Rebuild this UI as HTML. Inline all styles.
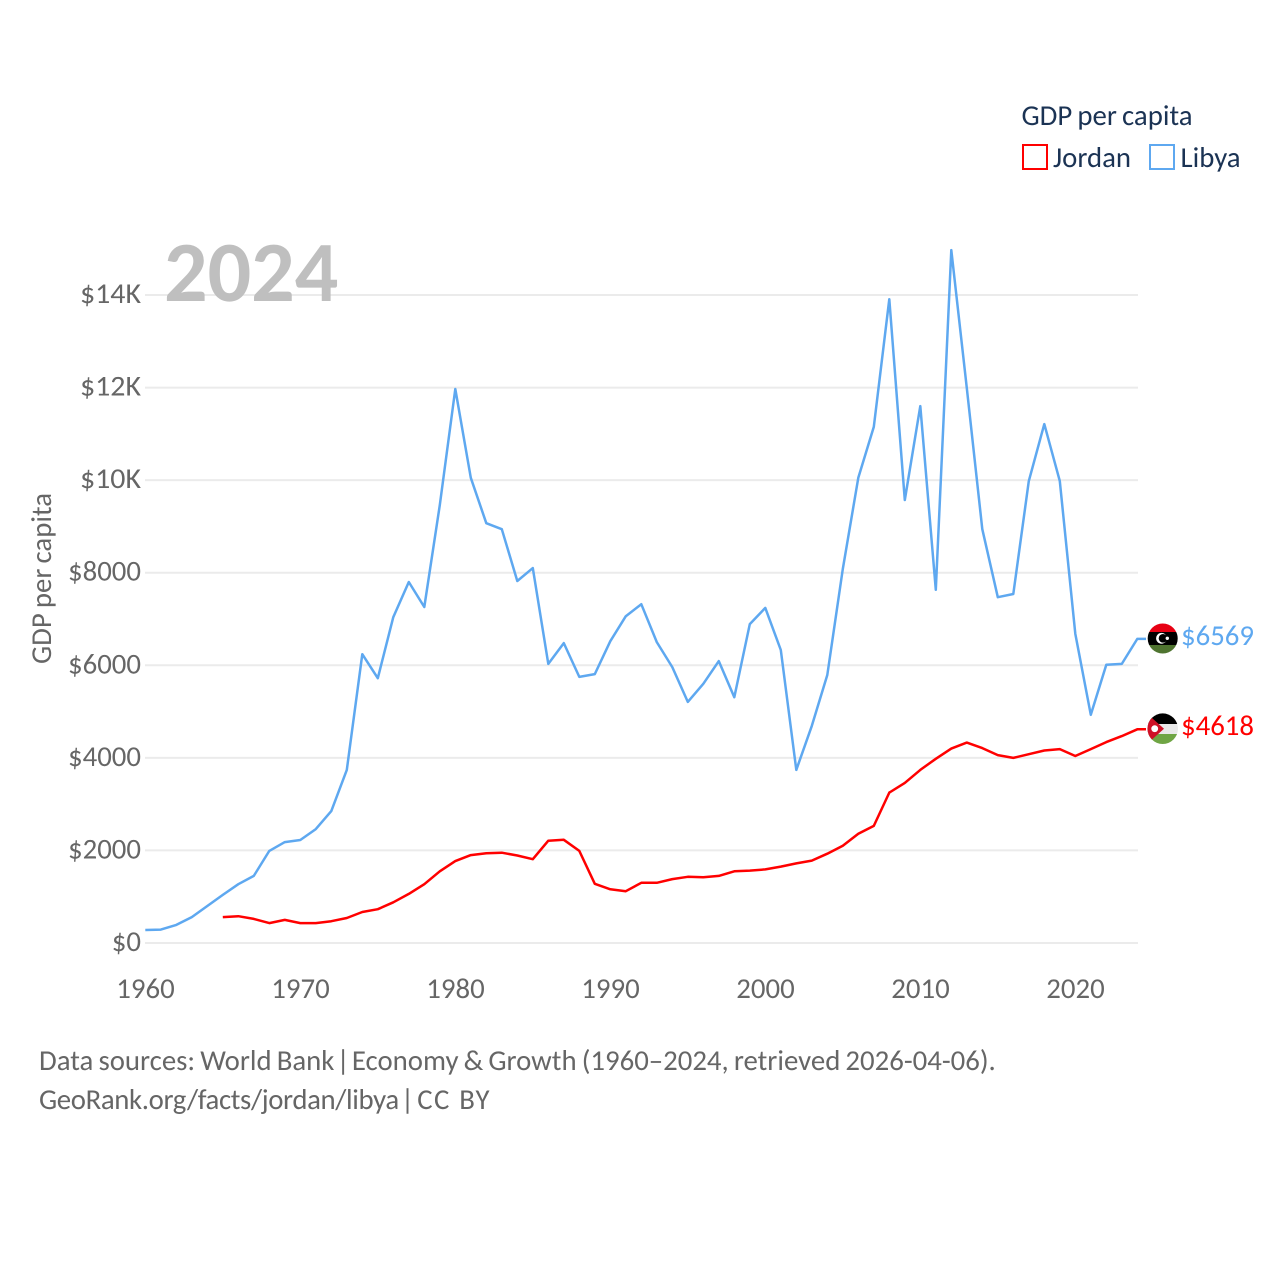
<!DOCTYPE html>
<html lang="en">
<head>
<meta charset="utf-8">
<title>GDP per capita: Jordan and Libya</title>
<style>
html,body{margin:0;padding:0;background:#fff;}
svg{display:block;font-family:"Carlito","Lato","Liberation Sans",sans-serif;text-rendering:geometricPrecision;word-spacing:-1.4px;}
</style>
</head>
<body>
<svg id="chart" xmlns="http://www.w3.org/2000/svg" width="1280" height="1280" viewBox="0 0 1280 1280">
  <defs>
    <clipPath id="libya-clip"><circle cx="1162.7" cy="638.5" r="15"/></clipPath>
    <clipPath id="jordan-clip"><circle cx="1162.7" cy="728.7" r="15.3"/></clipPath>
  </defs>
  <rect x="0" y="0" width="1280" height="1280" fill="#fff"/>
  <g id="grid"></g>
  <text x="164" y="301" font-size="86" font-weight="700" fill="#bfbfbf">2024</text>
  <g id="y-ticks"></g>
  <g id="x-ticks"></g>
  <text transform="translate(51,664) rotate(-90)" font-size="28.8" fill="#666">GDP per capita</text>
  <g id="lines"></g>

  <g clip-path="url(#libya-clip)">
    <rect x="1147" y="623" width="31" height="9" fill="#e70013"/>
    <rect x="1147" y="632" width="31" height="13" fill="#000"/>
    <rect x="1147" y="645" width="31" height="9" fill="#4f7430"/>
    <circle cx="1161.5" cy="638.3" r="5.4" fill="#fff"/>
    <circle cx="1163" cy="638.3" r="4.3" fill="#000"/>
    <circle cx="1167.3" cy="638.3" r="1.7" fill="#fff"/>
  </g>
  <g clip-path="url(#jordan-clip)">
    <rect x="1147" y="713" width="31" height="11" fill="#000"/>
    <rect x="1147" y="724" width="31" height="10" fill="#e9e9e9"/>
    <rect x="1147" y="734" width="31" height="11" fill="#6fa544"/>
    <polygon points="1147,713.5 1147,744 1164,728.7" fill="#ce1126"/>
    <circle cx="1154.7" cy="728.7" r="3.4" fill="#fff"/>
  </g>
  <text id="libya-value" x="1181" y="645" font-size="28.8" fill="#5ea8f0">$6569</text>
  <text id="jordan-value" x="1181" y="735" font-size="28.8" fill="#ff0000">$4618</text>

  <g>
    <text x="1021.5" y="125" font-size="28.8" fill="#1b3354">GDP per capita</text>
    <g>
      <rect x="1023" y="145" width="24" height="24" fill="#fff" stroke="#ff0000" stroke-width="2"/>
      <text x="1053" y="167" font-size="28.8" fill="#1b3354">Jordan</text>
    </g>
    <g>
      <rect x="1150" y="145" width="24" height="24" fill="#fff" stroke="#5ea8f0" stroke-width="2"/>
      <text x="1180.5" y="167" font-size="28.8" fill="#1b3354">Libya</text>
    </g>
  </g>

  <g>
    <text x="39" y="1070" font-size="28.8" fill="#666">Data sources: World Bank <tspan dx="-3" letter-spacing="-3">|</tspan> Economy &amp; Growth (1960–2024, retrieved 2026-04-06).</text>
    <text x="39" y="1109" font-size="28.8" fill="#666"><tspan letter-spacing="-0.37">GeoRank.org/facts/jordan/libya</tspan> <tspan dx="-3" letter-spacing="-3">|</tspan> <tspan dx="1" letter-spacing="1.4" word-spacing="0.5">CC BY</tspan></text>
  </g>
</svg>
<script>
const xTickYears = [1960, 1970, 1980, 1990, 2000, 2010, 2020];
const yTickValues = [0, 2000, 4000, 6000, 8000, 10000, 12000, 14000];
const yTickLabels = ['$0', '$2000', '$4000', '$6000', '$8000', '$10K', '$12K', '$14K'];
const libyaStartYear = 1960;
const libyaValues = [281, 290, 390, 560, 800, 1040, 1270, 1450, 1990, 2180, 2225, 2460, 2850, 3740, 6240, 5720, 7040, 7800, 7260, 9460, 11970, 10050, 9070, 8940, 7820, 8100, 6030, 6480, 5750, 5810, 6520, 7060, 7320, 6500, 5960, 5210, 5600, 6090, 5310, 6890, 7240, 6330, 3740, 4690, 5790, 8080, 10050, 11150, 13910, 9570, 11600, 7630, 14970, 11990, 8940, 7470, 7540, 9980, 11210, 9980, 6680, 4930, 6010, 6030, 6569];
const jordanStartYear = 1965;
const jordanValues = [560, 580, 520, 430, 500, 430, 430, 470, 540, 670, 730, 880, 1060, 1270, 1550, 1770, 1900, 1940, 1950, 1890, 1810, 2210, 2230, 1990, 1280, 1160, 1120, 1300, 1300, 1380, 1430, 1420, 1450, 1550, 1565, 1590, 1650, 1720, 1780, 1930, 2100, 2360, 2530, 3250, 3460, 3740, 3980, 4200, 4330, 4210, 4060, 4000, 4080, 4160, 4190, 4040, 4190, 4340, 4470, 4618];

const SVG_NS = 'http://www.w3.org/2000/svg';
const xScale = function (year) { return 145.3 + (year - 1960) * 15.5; };
const yScale = function (value) { return 943 - value * 648 / 14000; };

function linePath(startYear, values) {
  const pts = values.map(function (v, i) {
    return xScale(startYear + i).toFixed(1) + ',' + yScale(v).toFixed(1);
  });
  const lastY = yScale(values[values.length - 1]).toFixed(1);
  pts.push('1146,' + lastY);
  return 'M' + pts.join('L');
}

const gridGroup = document.getElementById('grid');
const yGroup = document.getElementById('y-ticks');
const xGroup = document.getElementById('x-ticks');
const lineGroup = document.getElementById('lines');

yTickValues.forEach(function (value, i) {
  const line = document.createElementNS(SVG_NS, 'line');
  
  
  line.setAttribute('x1', 145);
  line.setAttribute('x2', 1138);
  line.setAttribute('y1', yScale(value));
  line.setAttribute('y2', yScale(value));
  line.setAttribute('stroke', '#ebebeb');
  line.setAttribute('stroke-width', 2);
  gridGroup.appendChild(line);

  const label = document.createElementNS(SVG_NS, 'text');
  
  
  label.setAttribute('x', 141);
  label.setAttribute('y', yScale(value) + 8);
  label.setAttribute('text-anchor', 'end');
  label.setAttribute('font-size', 28.8);
  label.setAttribute('fill', '#666');
  if (yTickLabels[i].indexOf('K') > -1) {
    label.setAttribute('textLength', 61);
    label.setAttribute('lengthAdjust', 'spacingAndGlyphs');
  }
  label.textContent = yTickLabels[i];
  yGroup.appendChild(label);
});

xTickYears.forEach(function (year) {
  const label = document.createElementNS(SVG_NS, 'text');
  
  
  label.setAttribute('x', xScale(year) + 0.2);
  label.setAttribute('y', 998);
  label.setAttribute('text-anchor', 'middle');
  label.setAttribute('font-size', 28.8);
  label.setAttribute('fill', '#666');
  label.textContent = String(year);
  xGroup.appendChild(label);
});

const libyaLine = document.createElementNS(SVG_NS, 'path');


libyaLine.setAttribute('d', linePath(libyaStartYear, libyaValues));
libyaLine.setAttribute('fill', 'none');
libyaLine.setAttribute('stroke', '#5ea8f0');
libyaLine.setAttribute('stroke-width', 2.5);
libyaLine.setAttribute('stroke-linejoin', 'round');
lineGroup.appendChild(libyaLine);

const jordanLine = document.createElementNS(SVG_NS, 'path');


jordanLine.setAttribute('d', linePath(jordanStartYear, jordanValues));
jordanLine.setAttribute('fill', 'none');
jordanLine.setAttribute('stroke', '#ff0000');
jordanLine.setAttribute('stroke-width', 2.5);
jordanLine.setAttribute('stroke-linejoin', 'round');
lineGroup.appendChild(jordanLine);
</script>
</body>
</html>
